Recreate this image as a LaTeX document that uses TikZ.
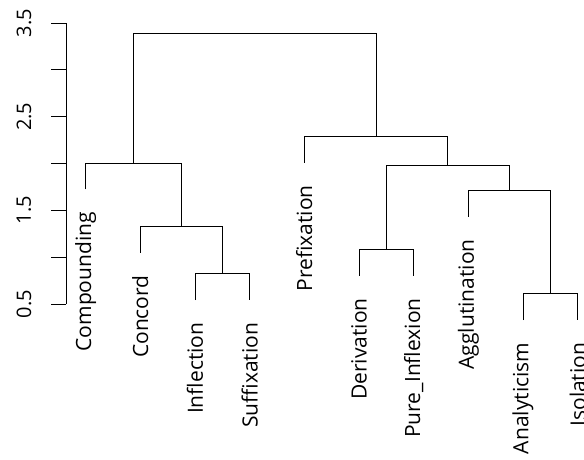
\documentclass[tikz,border=0pt]{standalone}
\usepackage{fontspec}
\setmainfont{Open Sans}
\begin{document}
\begin{tikzpicture}[x=1pt,y=-1pt,
  tree/.style={line width=0.9pt, black},
  axisline/.style={line width=0.9pt, black},
  leaflabel/.style={rotate=90, anchor=east, inner sep=0pt, font=\fontsize{21}{25}\selectfont},
  ticklabel/.style={rotate=90, anchor=center, inner sep=0pt, font=\fontsize{20}{24}\selectfont}]
\useasboundingbox (0,0) rectangle (584,459);
% axis
\coordinate (ax0) at (66,304);
\coordinate (ax1) at (66,23);
\draw[axisline] (ax0) -- (ax1);
\foreach \v/\y in {a/304,b/257.2,c/210.3,d/163.5,e/116.7,f/69.8,g/23}{
  \coordinate (t\v) at (66,\y);
  \coordinate (u\v) at (51,\y);
  \draw[axisline] (t\v) -- (u\v);
}
\node[ticklabel] (l05) at (24,304) {0.5};
\node[ticklabel] (l15) at (24,210.3) {1.5};
\node[ticklabel] (l25) at (24,116.7) {2.5};
\node[ticklabel] (l35) at (24,23) {3.5};
% leaf tops
\coordinate (Lcomp) at (85.7,189.3);
\coordinate (Lconc) at (140.3,252.7);
\coordinate (Linfl) at (195,300);
\coordinate (Lsuff) at (249.7,300);
\coordinate (Lpref) at (304.3,162.7);
\coordinate (Lderi) at (359,275.7);
\coordinate (Lpure) at (413.7,275.7);
\coordinate (Laggl) at (468.3,216.7);
\coordinate (Lanal) at (523,320);
\coordinate (Liso) at (577.7,320);
% merges
\coordinate (mIS) at (222.3,273.7);
\coordinate (mCIS) at (181.3,226.7);
\coordinate (mLeft) at (133.5,163.3);
\coordinate (mDP) at (386.3,249.3);
\coordinate (mAI) at (550.3,293.7);
\coordinate (mAgAI) at (509.3,190.3);
\coordinate (mDPAg) at (447.8,165.5);
\coordinate (mPR) at (376,136.3);
\coordinate (mRoot) at (254.8,33.3);
\draw[tree] (Linfl) |- (mIS) -| (Lsuff);
\draw[tree] (Lconc) |- (mCIS) -| (mIS);
\draw[tree] (Lcomp) |- (mLeft) -| (mCIS);
\draw[tree] (Lderi) |- (mDP) -| (Lpure);
\draw[tree] (Lanal) |- (mAI) -| (Liso);
\draw[tree] (Laggl) |- (mAgAI) -| (mAI);
\draw[tree] (mDP) |- (mDPAg) -| (mAgAI);
\draw[tree] (Lpref) |- (mPR) -| (mDPAg);
\draw[tree] (mLeft) |- (mRoot) -| (mPR);
% labels
\node[leaflabel] (Tcomp) at ([yshift=-22.5]Lcomp) {Compounding};
\node[leaflabel] (Tconc) at ([yshift=-22.5]Lconc) {Concord};
\node[leaflabel] (Tinfl) at ([yshift=-22.5]Linfl) {Inflection};
\node[leaflabel] (Tsuff) at ([yshift=-22.5]Lsuff) {Suffixation};
\node[leaflabel] (Tpref) at ([yshift=-22.5]Lpref) {Prefixation};
\node[leaflabel] (Tderi) at ([yshift=-22.5]Lderi) {Derivation};
\node[leaflabel] (Tpure) at ([yshift=-22.5]Lpure) {Pure\_Inflexion};
\node[leaflabel] (Taggl) at ([yshift=-22.5]Laggl) {Agglutination};
\node[leaflabel] (Tanal) at ([yshift=-22.5]Lanal) {Analyticism};
\node[leaflabel] (Tiso) at ([yshift=-22.5]Liso) {Isolation};
\end{tikzpicture}
\end{document}
